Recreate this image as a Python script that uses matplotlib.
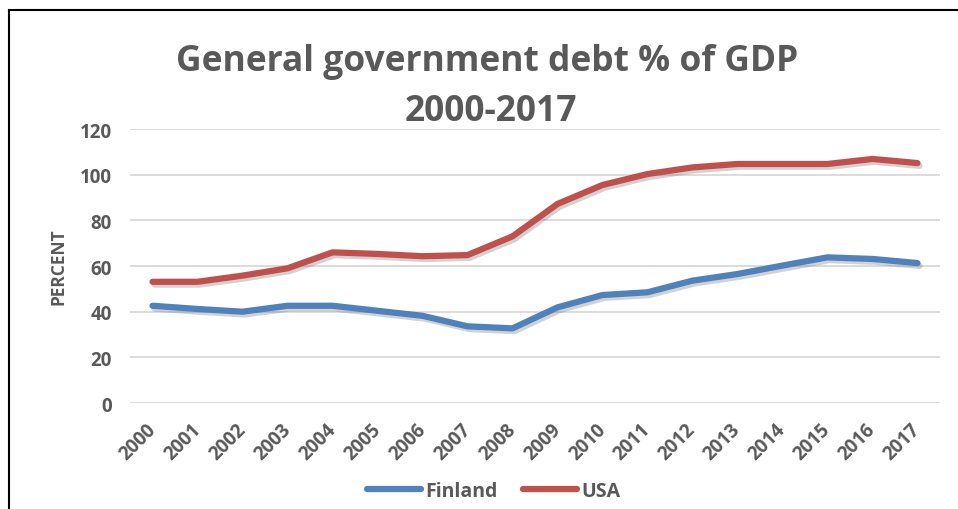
import matplotlib.pyplot as plt
import matplotlib.patheffects as pe
from matplotlib.lines import Line2D

years = [str(y) for y in range(2000, 2018)]
finland = [42.6, 41.2, 40.0, 42.6, 42.6, 40.4, 38.2, 33.6, 32.7, 41.9,
           47.3, 48.5, 53.6, 56.5, 60.2, 63.8, 63.1, 61.3]
usa = [53.1, 53.1, 55.8, 59.0, 66.0, 65.3, 64.3, 64.8, 73.0, 87.2,
       95.5, 100.3, 103.2, 104.7, 104.7, 104.7, 106.9, 105.1]

text_color = '#595959'
plt.rcParams['font.family'] = ['Open Sans', 'DejaVu Sans']
plt.rcParams['font.weight'] = 'bold'

fig = plt.figure(figsize=(9.58, 5.10), dpi=100)
ax = fig.add_axes([0.1357, 0.2078, 0.8455, 0.5372])

shadow = [pe.SimpleLineShadow(offset=(1.5, -2), shadow_color='#7f7f7f', alpha=0.35),
          pe.Normal()]
x = range(len(years))
ax.plot(x, finland, color='#4F81BD', linewidth=4.5, solid_capstyle='round',
        label='Finland', path_effects=shadow, zorder=3)
ax.plot(x, usa, color='#C0504D', linewidth=4.5, solid_capstyle='round',
        label='USA', path_effects=shadow, zorder=3)

ax.set_xlim(-0.5, len(years) - 0.5)
ax.set_ylim(0, 120)
ax.set_yticks(range(0, 121, 20))
ax.grid(axis='y', color='#d9d9d9', linewidth=1.3)
ax.set_axisbelow(True)
for s in ax.spines.values():
    s.set_visible(False)
ax.tick_params(length=0, colors=text_color, labelsize=13.5)
ax.tick_params(axis='y', pad=13)

ax.set_xticks(list(x))
ax.set_xticklabels(years, rotation=45, ha='right', va='center',
                   rotation_mode='anchor', fontsize=13.5)
ax.tick_params(axis='x', pad=17)

ax.set_ylabel('PERCENT', color=text_color, fontsize=12.5, fontweight='bold', labelpad=9)

fig.text(0.509, 0.879, 'General government debt % of GDP', ha='center', va='center',
         fontsize=25.5, fontweight='bold', color=text_color)
fig.text(0.512, 0.781, '2000-2017', ha='center', va='center',
         fontsize=25.5, fontweight='bold', color=text_color)

leg = fig.legend(loc='center', bbox_to_anchor=(0.515, 0.035), ncol=2, frameon=False,
                 fontsize=14, handlelength=2.8, handletextpad=0.2, columnspacing=1.3)
for t in leg.get_texts():
    t.set_color(text_color)
for h in leg.get_lines():
    h.set_path_effects([])

# outer frame: left and top edges only
fig.add_artist(Line2D([9 / 958, 9 / 958], [0, 1 - 11 / 510], color='black', linewidth=1.5,
                      transform=fig.transFigure))
fig.add_artist(Line2D([9 / 958, 1], [1 - 11 / 510, 1 - 11 / 510], color='black', linewidth=1.5,
                      transform=fig.transFigure))

fig.savefig('out.png', dpi=100)
